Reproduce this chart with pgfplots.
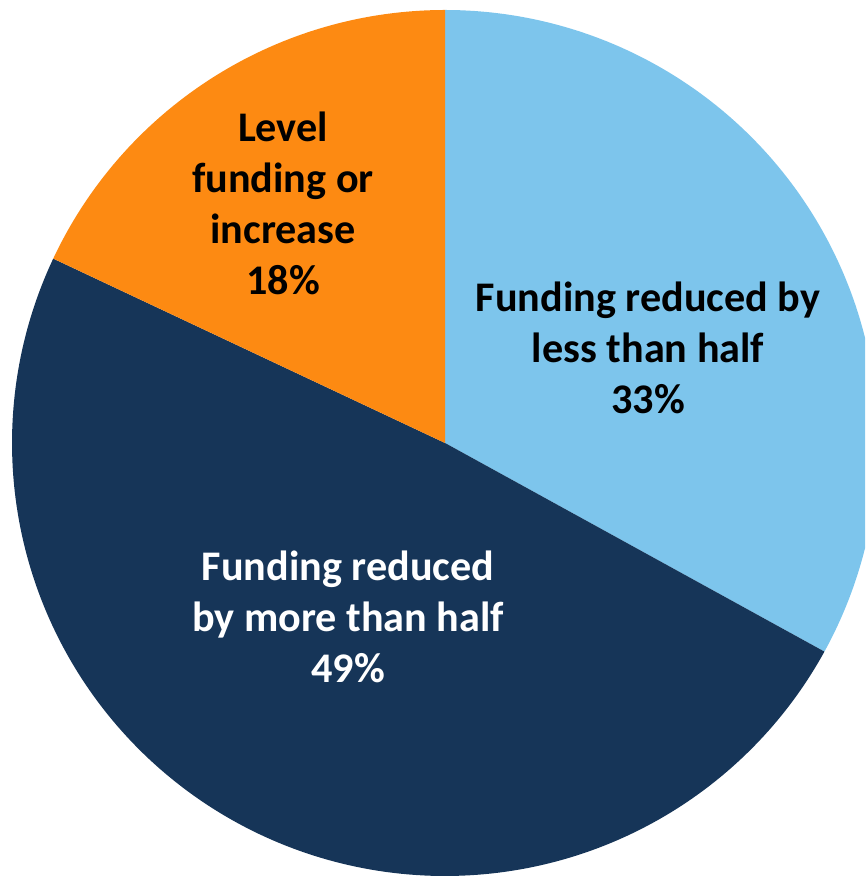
\documentclass[border=0pt]{standalone}
\usepackage{fontspec}
\setmainfont{Carlito}
\usepackage{pgfplots}
\pgfplotsset{compat=1.18}
\definecolor{cblue}{HTML}{7DC5EC}
\definecolor{cnavy}{HTML}{163558}
\definecolor{corange}{HTML}{FD8A12}
\def\va{33}
\def\vb{49}
\def\vc{18}
\begin{document}
\begin{tikzpicture}
\begin{axis}[
  scale only axis,
  width=8.65cm, height=8.76cm,
  xmin=-1.0277, xmax=0.970,
  ymin=-1.0, ymax=1.0231,
  hide axis,
  clip=true,
  samples=180,
]
\addplot[fill=cblue, draw=none, domain={90-3.6*\va}:90] ({cos(x)},{sin(x)}) -- (axis cs:0,0) -- cycle;
\addplot[fill=cnavy, draw=none, domain={90-3.6*(\va+\vb)}:{90-3.6*\va}] ({cos(x)},{sin(x)}) -- (axis cs:0,0) -- cycle;
\addplot[fill=corange, draw=none, domain={90-3.6*(\va+\vb+\vc)}:{90-3.6*(\va+\vb)}] ({cos(x)},{sin(x)}) -- (axis cs:0,0) -- cycle;
\node[align=center, font=\fontsize{12}{14.5}\selectfont\bfseries, text=black] at (axis cs:-0.374,0.554) {Level\\funding or\\increase\\18\%};
\node[align=center, font=\fontsize{12}{14.5}\selectfont\bfseries, text=black] at (axis cs:0.469,0.219) {Funding reduced by\\less than half\\33\%};
\node[align=center, font=\fontsize{12}{14.5}\selectfont\bfseries, text=white] at (axis cs:-0.224,-0.402) {Funding reduced\\by more than half\\49\%};
\end{axis}
\pgfresetboundingbox
\path[use as bounding box] (current axis.south west) rectangle (current axis.north east);
\end{tikzpicture}
\end{document}
